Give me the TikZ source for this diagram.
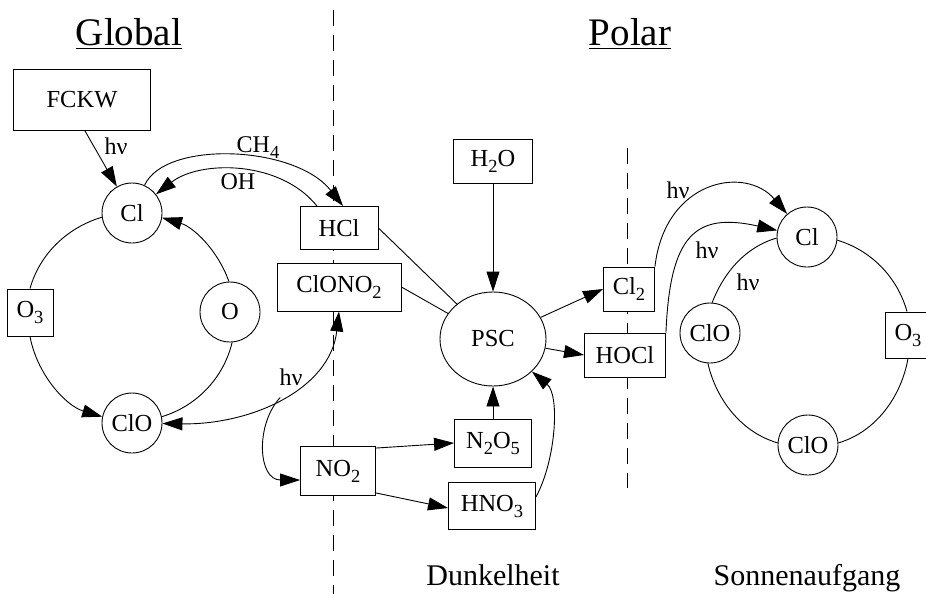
\documentclass[tikz,border=0pt]{standalone}
\usepackage{fontspec}
\setmainfont{Liberation Serif}
\usetikzlibrary{arrows.meta,shapes.geometric}
\newcommand\chsub[1]{\raisebox{-6pt}{\fontsize{18.5}{20}\selectfont #1}}
\begin{document}
\begin{tikzpicture}[x=1pt,y=-1pt,line width=0.9pt,
  >={Triangle[length=20pt,width=13pt]},
  box/.style={draw,fill=white,rectangle,inner sep=0pt,font=\fontsize{24.5}{28}\selectfont},
  circ/.style={draw,fill=white,circle,minimum size=60pt,inner sep=0pt,font=\fontsize{24.5}{28}\selectfont},
  lbl/.style={inner sep=0pt,font=\fontsize{24}{28}\selectfont},
  ttl/.style={inner sep=0pt,anchor=base,font=\fontsize{39}{44}\selectfont},
  foot/.style={inner sep=0pt,anchor=base,font=\fontsize{30}{34}\selectfont},
  sep/.style={line width=0.8pt,dash pattern=on 16pt off 9pt},
  ring/.style={looseness=0.91}]
\useasboundingbox (0,0) rectangle (926,594);
\clip (0,0) rectangle (926,594);
\fill[white] (0,0) rectangle (926,594);

% separators
\draw[sep] (333,10) -- (333,594);
\draw[sep] (627,148) -- (627,488);

% titles
\node[ttl] (tglobal) at (129,46) {\underline{Global}};
\node[ttl] (tpolar) at (630,46) {\underline{Polar}};
\node[foot] (fdark) at (493,585) {Dunkelheit};
\node[foot] (fsun) at (807,585) {Sonnenaufgang};

% nodes
\node[box,minimum width=137pt,minimum height=61pt] (FCKW) at (82,100) {FCKW};
\node[box,minimum width=78pt,minimum height=43pt] (HCl) at (339,228) {HCl};
\node[box,minimum width=124pt,minimum height=48pt] (ClONO2) at (339,287) {ClONO\chsub{2}};
\node[box,minimum width=46pt,minimum height=47pt] (O3L) at (30,312.5) {O\chsub{3}};
\node[box,minimum width=75pt,minimum height=49pt] (NO2) at (338,471) {NO\chsub{2}};
\node[box,minimum width=77pt,minimum height=48pt] (N2O5) at (493,443) {N\chsub{2}O\chsub{5}};
\node[box,minimum width=87pt,minimum height=47pt] (HNO3) at (492,506) {HNO\chsub{3}};
\node[box,minimum width=79pt,minimum height=44pt] (H2O) at (493,161) {H\chsub{2}O};
\node[box,minimum width=51pt,minimum height=44pt] (Cl2) at (629,289) {Cl\chsub{2}};
\node[box,minimum width=81pt,minimum height=44pt] (HOCl) at (625,355) {HOCl};
\node[box,minimum width=46pt,minimum height=46pt] (O3R) at (908,335) {O\chsub{3}};

\node[circ] (ClL) at (132,213) {Cl};
\node[circ] (OL) at (230,312) {O};
\node[circ] (ClOL) at (132,423) {ClO};
\node[circ] (ClR) at (807,237) {Cl};
\node[circ] (ClOa) at (710,333) {ClO};
\node[circ] (ClOb) at (808,445) {ClO};
\node[draw,fill=white,ellipse,minimum width=106pt,minimum height=94pt,inner sep=0pt,
      font=\fontsize{24.5}{28}\selectfont] (PSC) at (493,339) {PSC};

% left cycle
\draw[ring] (ClL.188) to[out=196.6,in=74.4] (O3L.north);
\draw[ring,->] (O3L.south) to[out=280.5,in=163.4] (ClOL.168);
\draw[ring,->] (OL.92) to[out=109.4,in=343.4] (ClL.351);
\draw[ring] (OL.274) to[out=256.6,in=16.6] (ClOL.12);

% right cycle
\draw[ring] (ClR.354) to[out=-16.7,in=105.6] ([xshift=-1pt]O3R.north);
\draw[ring] (ClOa.86) to[out=68.7,in=196.2] (ClR.182);
\draw[ring] (ClOa.266) to[out=283.1,in=163.8] (ClOb.176);
\draw[ring] (ClOb.4) to[out=16.2,in=260] (O3R.south);

% global connectors
\draw[->] ([xshift=3pt]FCKW.south) -- (ClL);
\draw[->] (ClL) .. controls (165,140) and (295,145) .. ([xshift=4pt]HCl.north);
\draw[->] ([xshift=-22pt]HCl.north) .. controls (280,160) and (200,160) .. (ClL);
\draw[<->] (ClOL) .. controls (250,425) and (330,390) .. (ClONO2.south) coordinate[pos=0.5] (hvb);
\draw[->] (hvb) .. controls (255,425) and (258,480) .. ([yshift=-9pt]NO2.west);
\draw[->] ([yshift=-2pt]NO2.north east) -- (N2O5.west);
\draw[->] ([yshift=3pt]NO2.south east) -- ([yshift=-2pt]HNO3.west);

% polar connectors
\draw (HCl.east) -- (PSC);
\draw (ClONO2.east) -- (PSC);
\draw[->] (H2O) -- (PSC);
\draw[->] (N2O5) -- (PSC);
\draw[->] ([yshift=9pt]HNO3.east) .. controls (556,460) and (560,395) .. (PSC);
\draw[->] (PSC) -- (Cl2.west);
\draw[->] (PSC) -- (HOCl.west);
\draw[->] (Cl2.north east) .. controls (665,180) and (745,165) .. (ClR);
\draw[->] (HOCl.north east) .. controls (670,235) and (695,212) .. (ClR);

% labels
\node[lbl] (l1) at (116,146) {hν};
\node[lbl] (lch4) at (258,148) {CH\chsub{4}};
\node[lbl] (loh) at (238,182) {OH};
\node[lbl] (l2) at (291,377) {hν};
\node[lbl] (l3) at (678,190) {hν};
\node[lbl] (l4) at (707,250) {hν};
\node[lbl] (l5) at (748,282) {hν};
\end{tikzpicture}
\end{document}
